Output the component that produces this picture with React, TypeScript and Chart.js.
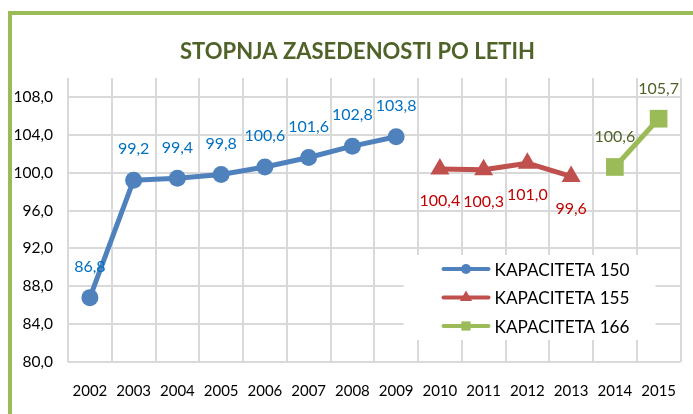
import React, { useEffect, useRef } from 'react';
import { Chart, registerables } from 'chart.js';

Chart.register(...registerables);

const years = ['2002', '2003', '2004', '2005', '2006', '2007', '2008', '2009', '2010', '2011', '2012', '2013', '2014', '2015'];
const kap150 = [86.8, 99.2, 99.4, 99.8, 100.6, 101.6, 102.8, 103.8, null, null, null, null, null, null];
const kap155 = [null, null, null, null, null, null, null, null, 100.4, 100.3, 101.0, 99.6, null, null];
const kap166 = [null, null, null, null, null, null, null, null, null, null, null, null, 100.6, 105.7];
const seriesNames = ['KAPACITETA 150', 'KAPACITETA 155', 'KAPACITETA 166'];
const titleText = 'STOPNJA ZASEDENOSTI PO LETIH';
const yMin = 80;
const yMax = 110;
const yStep = 4;

const FONT = 'Lato, "Open Sans", sans-serif';

const lineColors = ['#4F81BD', '#C0504D', '#9BBB59'];
const labelColors = ['#0070C0', '#C00000', '#4F6228'];
const labelOffsets = [-31, 32, -30];
const pointStyles = ['circle', 'triangle', 'rect'];
const pointRadii = [8.5, 11, 12.5];
const legendRadii = [5, 7, 6.5];

const fmt = (v: number) => v.toFixed(1).replace('.', ',');

function drawMarker(ctx: CanvasRenderingContext2D, style: string, x: number, y: number, r: number) {
  ctx.beginPath();
  if (style === 'circle') {
    ctx.arc(x, y, r, 0, Math.PI * 2);
  } else if (style === 'triangle') {
    ctx.moveTo(x, y - r);
    ctx.lineTo(x + r * Math.sin((2 * Math.PI) / 3), y - r * Math.cos((2 * Math.PI) / 3));
    ctx.lineTo(x + r * Math.sin((4 * Math.PI) / 3), y - r * Math.cos((4 * Math.PI) / 3));
    ctx.closePath();
  } else {
    const s = r * Math.SQRT1_2;
    ctx.rect(x - s, y - s, 2 * s, 2 * s);
  }
  ctx.fill();
}

const decorPlugin = {
  id: 'decor',
  beforeDatasetsDraw(chart: any) {
    const { ctx, chartArea: a } = chart;
    const x0 = a.right - 277;
    const y0 = a.bottom - 107;
    ctx.save();
    ctx.fillStyle = '#ffffff';
    ctx.fillRect(x0, y0, 252, 85);
    chart.data.datasets.forEach((ds: any, i: number) => {
      const y = y0 + 14 + i * 28.5;
      const lx = x0 + 40;
      ctx.strokeStyle = ds.borderColor;
      ctx.lineWidth = 4;
      ctx.lineCap = 'round';
      ctx.beginPath();
      ctx.moveTo(lx, y);
      ctx.lineTo(lx + 45, y);
      ctx.stroke();
      ctx.fillStyle = ds.borderColor;
      drawMarker(ctx, pointStyles[i], lx + 22.5, y, legendRadii[i]);
      ctx.fillStyle = '#000000';
      ctx.font = `17.2px ${FONT}`;
      ctx.textAlign = 'left';
      ctx.textBaseline = 'middle';
      ctx.fillText(ds.label, lx + 51, y + 1);
    });
    ctx.restore();
  },
  afterDatasetsDraw(chart: any) {
    const { ctx } = chart;
    ctx.save();
    ctx.font = `16px ${FONT}`;
    ctx.textAlign = 'center';
    ctx.textBaseline = 'middle';
    chart.data.datasets.forEach((ds: any, i: number) => {
      const meta = chart.getDatasetMeta(i);
      ctx.fillStyle = labelColors[i];
      meta.data.forEach((pt: any, j: number) => {
        const v = ds.data[j];
        if (v === null || v === undefined) return;
        ctx.fillText(fmt(v), pt.x, pt.y + labelOffsets[i]);
      });
    });
    ctx.fillStyle = '#4F6228';
    ctx.font = `bold 22px ${FONT}`;
    ctx.fillText(titleText, chart.width / 2 + 5, 37);
    ctx.restore();
  },
};

export default function App() {
  const ref = useRef<HTMLCanvasElement | null>(null);

  useEffect(() => {
    if (!ref.current) return;
    const seriesData = [kap150, kap155, kap166];
    const chart = new Chart(ref.current, {
      type: 'line',
      data: {
        labels: years,
        datasets: seriesData.map((d, i) => ({
          label: seriesNames[i],
          data: d,
          borderColor: lineColors[i],
          backgroundColor: lineColors[i],
          pointBackgroundColor: lineColors[i],
          pointBorderColor: lineColors[i],
          pointBorderWidth: 0,
          borderWidth: 5,
          pointStyle: pointStyles[i] as any,
          pointRadius: pointRadii[i],
          tension: 0,
          spanGaps: false,
          borderJoinStyle: 'round' as const,
          borderCapStyle: 'round' as const,
          clip: false as any,
        })),
      },
      options: {
        animation: false,
        responsive: true,
        maintainAspectRatio: false,
        layout: { padding: { top: 63, right: 11, left: 0, bottom: 0 } },
        plugins: {
          legend: { display: false },
          title: { display: false },
          tooltip: { enabled: false },
        },
        scales: {
          x: {
            type: 'category',
            offset: true,
            grid: { offset: true, color: '#D9D9D9', lineWidth: 2, drawTicks: false },
            border: { display: false },
            ticks: { color: '#000000', font: { family: FONT, size: 15 }, padding: 20, maxRotation: 0, autoSkip: false },
            afterFit(scale: any) {
              scale.height = 52;
              scale.paddingLeft = 0;
              scale.paddingRight = 0;
            },
          },
          y: {
            min: yMin,
            max: yMax,
            grid: { color: '#D9D9D9', lineWidth: 2, drawTicks: false },
            border: { display: false },
            ticks: {
              stepSize: yStep,
              includeBounds: false,
              color: '#000000',
              font: { family: FONT, size: 15.5 },
              padding: 15,
              callback: (v: any) => fmt(Number(v)),
            },
            afterFit(scale: any) {
              scale.width = 56;
              scale.paddingTop = 0;
              scale.paddingBottom = 0;
            },
          },
        },
      },
      plugins: [decorPlugin],
    });
    return () => chart.destroy();
  }, []);

  return (
    <div
      style={{
        position: 'fixed',
        left: 8,
        top: 11,
        right: 0,
        bottom: 0,
        borderLeft: '4px solid #9BBB59',
        borderTop: '4px solid #9BBB59',
        background: '#ffffff',
      }}
    >
      <div style={{ position: 'relative', width: 681, height: 399 }}>
        <canvas ref={ref} />
      </div>
    </div>
  );
}
